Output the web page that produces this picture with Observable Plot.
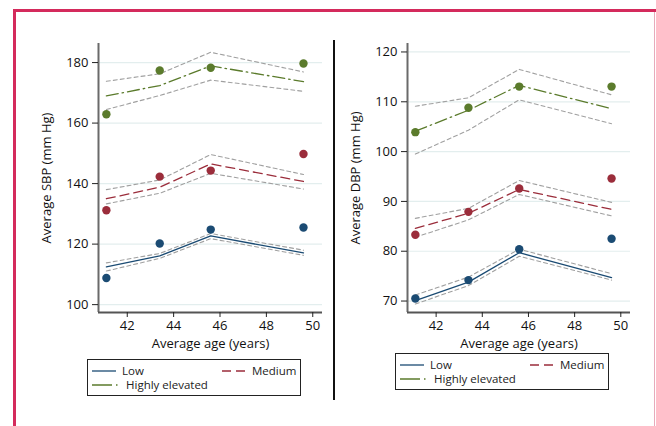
<!DOCTYPE html>
<html>
<head>
<meta charset="utf-8">
<script src="https://cdn.jsdelivr.net/npm/d3@7"></script>
<script src="https://cdn.jsdelivr.net/npm/@observablehq/plot@0.6"></script>
<style>
  html, body { margin: 0; padding: 0; background: #fff; }
  body { width: 656px; height: 426px; position: relative; overflow: hidden; font-family: "Open Sans", "Noto Sans", sans-serif; }
  .abs { position: absolute; }
  .legend { position: absolute; border: 1.5px solid #222; box-sizing: border-box; font-size: 11.5px; color: #222; background: #fff; }
  .item { position: absolute; display: flex; align-items: center; white-space: nowrap; }
  .item svg { margin-right: 6px; }
</style>
</head>
<body>
<div class="abs" style="left:13px;top:9px;width:643px;height:3px;background:#d42a5c"></div>
<div class="abs" style="left:13px;top:9px;width:3px;height:417px;background:#d42a5c"></div>
<div class="abs" style="left:654px;top:12px;width:1px;height:414px;background:#e8aabb"></div>
<div class="abs" style="left:333px;top:40px;width:2px;height:360px;background:#111"></div>
<div id="left" class="abs" style="left:0;top:0"></div>
<div id="right" class="abs" style="left:330px;top:0"></div>
<script>
const ages = [41.1, 43.4, 45.6, 49.6];
const groups = ["Low", "Medium", "Highly elevated"];
const groupColors = ["#1b4b73", "#9b2d3b", "#5b7b2c"];
const xTicks = [42, 44, 46, 48, 50];

// SBP panel
const sbpTicks = [100, 120, 140, 160, 180];
const sbpObsLow = [108.8, 120.2, 124.8, 125.5];
const sbpObsMed = [131.2, 142.3, 144.3, 149.8];
const sbpObsHigh = [162.9, 177.4, 178.3, 179.7];
const sbpFitLow = [112.5, 116.1, 122.7, 117.1];
const sbpFitMed = [135.0, 138.8, 146.5, 140.7];
const sbpFitHigh = [169.0, 172.4, 178.9, 173.7];
const sbpUpLow = [113.8, 116.9, 123.5, 118.0];
const sbpLoLow = [111.1, 115.3, 121.8, 116.3];
const sbpUpMed = [138.0, 141.2, 149.6, 143.0];
const sbpLoMed = [133.3, 136.8, 143.4, 138.2];
const sbpUpHigh = [173.8, 176.3, 183.4, 176.9];
const sbpLoHigh = [164.5, 169.1, 174.2, 170.5];

// DBP panel
const dbpTicks = [70, 80, 90, 100, 110, 120];
const dbpObsLow = [70.5, 74.2, 80.4, 82.5];
const dbpObsMed = [83.3, 87.9, 92.6, 94.6];
const dbpObsHigh = [103.9, 108.8, 113.05, 113.05];
const dbpFitLow = [70.1, 73.8, 79.7, 74.7];
const dbpFitMed = [84.6, 87.6, 92.4, 88.4];
const dbpFitHigh = [104.1, 108.3, 113.3, 108.6];
const dbpUpLow = [71.2, 74.8, 80.4, 75.5];
const dbpLoLow = [69.4, 73.1, 79.0, 74.2];
const dbpUpMed = [86.6, 88.6, 94.2, 89.8];
const dbpLoMed = [82.8, 86.3, 91.4, 87.1];
const dbpUpHigh = [109.1, 110.8, 116.5, 111.4];
const dbpLoHigh = [99.5, 104.3, 110.4, 105.6];

const dashes = [null, "9,5", "12,4,1.5,4"];

function rows(arr) { return arr.map((v, i) => ({x: ages[i], y: v})); }

function panel(opts) {
  const {width, marginLeft, marginRight, yDomain, yTicks, yLabel, obs, fit, up, lo} = opts;
  const xDomain = [40.76, 50.42];
  const marks = [
    Plot.gridY(yTicks, {stroke: "#e3eeee", strokeOpacity: 1, strokeWidth: 1.2}),
  ];
  for (let g = 0; g < 3; g++) {
    marks.push(Plot.line(rows(up[g]), {x: "x", y: "y", stroke: "#a0a0a0", strokeWidth: 1.1, strokeDasharray: "4,3"}));
    marks.push(Plot.line(rows(lo[g]), {x: "x", y: "y", stroke: "#a0a0a0", strokeWidth: 1.1, strokeDasharray: "4,3"}));
    marks.push(Plot.line(rows(fit[g]), {x: "x", y: "y", stroke: groupColors[g], strokeWidth: 1.3, strokeDasharray: dashes[g]}));
  }
  for (let g = 0; g < 3; g++) {
    marks.push(Plot.dot(rows(obs[g]), {x: "x", y: "y", r: 4.2, fill: groupColors[g], stroke: "none"}));
  }
  marks.push(Plot.ruleX([xDomain[0]], {stroke: "#6a6a6a", strokeWidth: 2}));
  marks.push(Plot.ruleY([yDomain[0]], {stroke: "#555", strokeWidth: 2}));
  marks.push(Plot.axisY(yTicks, {tickSize: 6, tickPadding: 4, stroke: "#222", label: yLabel, labelAnchor: "center", labelArrow: "none", labelOffset: 57, fontSize: 13}));
  marks.push(Plot.axisX(xTicks, {tickSize: 5, tickPadding: 3, stroke: "#222", label: "Average age (years)", labelAnchor: "center", labelArrow: "none", labelOffset: 35, fontSize: 13}));
  return Plot.plot({
    width, height: 360,
    marginLeft, marginRight, marginTop: 43, marginBottom: 48,
    style: {fontFamily: "'Open Sans', 'Noto Sans', sans-serif", fontSize: "13px", color: "#111", background: "transparent", overflow: "visible"},
    x: {domain: xDomain},
    y: {domain: yDomain},
    marks
  });
}

document.getElementById("left").appendChild(panel({
  width: 330, marginLeft: 98, marginRight: 8,
  yDomain: [97.4, 186.3], yTicks: sbpTicks, yLabel: "Average SBP (mm Hg)",
  obs: [sbpObsLow, sbpObsMed, sbpObsHigh],
  fit: [sbpFitLow, sbpFitMed, sbpFitHigh],
  up: [sbpUpLow, sbpUpMed, sbpUpHigh],
  lo: [sbpLoLow, sbpLoMed, sbpLoHigh]
}));
document.getElementById("right").appendChild(panel({
  width: 326, marginLeft: 77, marginRight: 26,
  yDomain: [67.7, 121.7], yTicks: dbpTicks, yLabel: "Average DBP (mm Hg)",
  obs: [dbpObsLow, dbpObsMed, dbpObsHigh],
  fit: [dbpFitLow, dbpFitMed, dbpFitHigh],
  up: [dbpUpLow, dbpUpMed, dbpUpHigh],
  lo: [dbpLoLow, dbpLoMed, dbpLoHigh]
}));

function legend(left, top) {
  const box = document.createElement("div");
  box.className = "legend";
  box.style.left = left + "px"; box.style.top = top + "px";
  box.style.width = "214px"; box.style.height = "37px";
  const pos = [[4, 3], [134, 3], [4, 17]];
  const legendDash = [null, "9,5", "20,4,1.5,4"];
  groups.forEach((g, i) => {
    const it = document.createElement("div");
    it.className = "item";
    it.style.left = pos[i][0] + "px"; it.style.top = pos[i][1] + "px";
    const ns = "http://www.w3.org/2000/svg";
    const s = document.createElementNS(ns, "svg");
    s.setAttribute("width", i === 2 ? 28 : 24); s.setAttribute("height", 10);
    const l = document.createElementNS(ns, "line");
    l.setAttribute("x1", 0); l.setAttribute("x2", i === 2 ? 28 : 24);
    l.setAttribute("y1", 5); l.setAttribute("y2", 5);
    l.setAttribute("stroke", groupColors[i]); l.setAttribute("stroke-width", 1.3);
    if (legendDash[i]) l.setAttribute("stroke-dasharray", legendDash[i]);
    s.appendChild(l);
    it.appendChild(s);
    const t = document.createElement("span");
    t.textContent = g;
    it.appendChild(t);
    box.appendChild(it);
  });
  document.body.appendChild(box);
}
legend(87, 359);
legend(395, 353);
</script>
</body>
</html>
